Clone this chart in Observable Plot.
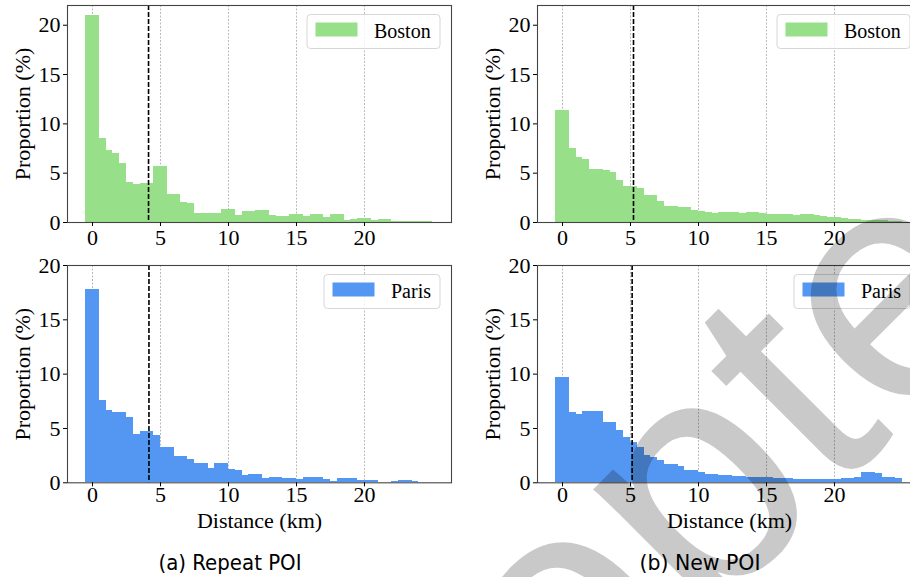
<!DOCTYPE html>
<html><head><meta charset="utf-8">
<script src="https://cdn.jsdelivr.net/npm/d3@7"></script>
<script src="https://cdn.jsdelivr.net/npm/@observablehq/plot@0.6"></script>
<style>
body{margin:0;background:#fff;}
#fig{position:relative;width:910px;height:577px;overflow:hidden;background:#fff;}
.panel{position:absolute;}
.panel text, .panel g{font-family:'Liberation Serif','Times New Roman',serif !important;font-variant:normal !important;}
#overlay{position:absolute;left:0;top:0;pointer-events:none;}
</style></head><body><div id="fig"></div>
<script>
// ---- data ----
const binStart = d3.range(51).map(i => -0.5 + 0.5 * i);
const binWidth = 0.5;
const xTicks = [0, 5, 10, 15, 20];
const yTicks = [0, 5, 10, 15, 20];
const cities = ["Boston", "Paris"];
const captions = ["(a) Repeat POI", "(b) New POI"];
const watermark = "Accepted";

const bostonRepeat = [21.0, 21.0, 8.49, 7.28, 6.97, 5.96, 4.05, 3.86, 3.94, 3.94,
  5.66, 5.66, 2.85, 2.85, 2.04, 1.93, 0.91, 0.91, 0.91, 0.91,
  1.32, 1.32, 0.71, 1.12, 1.12, 1.22, 1.22, 0.68, 0.58, 0.58,
  0.78, 0.78, 0.58, 0.81, 0.81, 0.51, 0.81, 0.81, 0.24, 0.34,
  0.41, 0.41, 0.24, 0.30, 0.30, 0.10, 0.10, 0.10, 0.10, 0.10, 0.10];
const bostonNew = [11.34, 11.34, 7.48, 6.57, 6.40, 5.38, 5.38, 5.28, 5.08, 4.26,
  3.65, 3.65, 3.45, 2.74, 2.74, 2.13, 1.62, 1.62, 1.52, 1.52,
  1.18, 1.08, 1.02, 0.91, 1.02, 1.02, 1.02, 0.91, 1.02, 1.02,
  0.95, 0.81, 0.81, 0.81, 0.81, 0.71, 0.81, 0.81, 0.68, 0.61,
  0.51, 0.51, 0.41, 0.30, 0.30, 0.20, 0.20, 0.20, 0.20, 0.10, 0.10];
const parisRepeat = [17.79, 17.79, 7.58, 6.66, 6.47, 6.47, 6.01, 4.45, 4.72, 4.72,
  4.36, 3.25, 3.25, 2.42, 2.42, 2.15, 1.78, 1.78, 1.32, 1.78,
  1.78, 1.23, 1.13, 0.67, 0.77, 0.77, 0.37, 0.49, 0.49, 0.40,
  0.40, 0.31, 0.49, 0.49, 0.49, 0.31, 0.12, 0.40, 0.40, 0.40,
  0.25, 0.21, 0.21, 0.05, 0.05, 0.12, 0.21, 0.21, 0.12, 0.05, 0.05];
const parisNew = [9.69, 9.69, 6.47, 6.29, 6.56, 6.56, 6.56, 5.55, 5.55, 4.82,
  4.17, 3.68, 3.25, 2.52, 2.33, 2.06, 1.72, 1.66, 1.50, 1.13,
  1.13, 0.98, 0.80, 0.80, 0.67, 0.67, 0.58, 0.58, 0.49, 0.49,
  0.49, 0.49, 0.40, 0.40, 0.40, 0.28, 0.28, 0.28, 0.28, 0.28,
  0.34, 0.34, 0.40, 0.40, 0.49, 0.98, 0.98, 0.89, 0.49, 0.49, 0.40];
// dashed reference lines (km): [Boston repeat, Boston new, Paris repeat, Paris new]
const medianDistance = [4.12, 5.22, 4.15, 5.12];

// ---- styles ----
const green = "#98df8a";
const blue = "#5497f2";
const serif = "'Liberation Serif','Times New Roman',serif";

function legendMark(label, color, textWidth) {
  return (index, scales, values, dims) => {
    const right = dims.width - dims.marginRight - 11;
    const top = dims.marginTop + 9.5;
    const boxW = 8.5 + 42 + 16.5 + textWidth + 9;
    const g = d3.create("svg:g");
    g.append("rect").attr("x", right - boxW).attr("y", top).attr("width", boxW).attr("height", 34)
      .attr("rx", 3.5).attr("fill", "white").attr("fill-opacity", 0.8).attr("stroke", "#d6d6d6").attr("stroke-width", 1);
    g.append("rect").attr("x", right - boxW + 8.5).attr("y", top + 8).attr("width", 42).attr("height", 14)
      .attr("fill", color);
    g.append("text").attr("x", right - boxW + 8.5 + 42 + 16.5).attr("y", top + 23)
      .attr("text-anchor", "start").attr("font-size", 20).attr("fill", "#000").text(label);
    return g.node();
  };
}

function panel({values, color, city, textWidth, median, yMax, left, top, height, marginTop, marginBottom, tickPad, xLabel}) {
  const rows = values.map((v, i) => ({x1: binStart[i], x2: binStart[i] + binWidth, y: v}));
  const p = Plot.plot({
    width: 460, height,
    marginLeft: 67, marginRight: 9, marginTop, marginBottom,
    style: {fontFamily: serif, fontSize: "22px", background: "transparent", color: "#000", overflow: "visible"},
    x: {domain: [-1.84, 26.4]},
    y: {domain: [0, yMax]},
    marks: [
      Plot.ruleX(xTicks, {stroke: "#aaaaaa", strokeWidth: 0.8, strokeDasharray: "2,1.5"}),
      Plot.rectY(rows, {x1: "x1", x2: "x2", y: "y", fill: color, insetLeft: 0, insetRight: 0, shapeRendering: "crispEdges"}),
      Plot.ruleX([median], {stroke: "#000", strokeWidth: 1.6, strokeDasharray: "5,2"}),
      Plot.frame({stroke: "#444", strokeWidth: 1.1}),
      Plot.axisX({ticks: xTicks, tickSize: 4, tickPadding: tickPad, tickFormat: d => String(d), fontSize: 22,
        fontFamily: serif, fontVariant: "normal",
        label: xLabel ? "Distance (km)" : null, labelAnchor: "center", labelArrow: "none", labelOffset: 45}),
      Plot.axisY({ticks: yTicks, tickSize: 4, tickPadding: 3, tickFormat: d => String(d), fontSize: 22,
        fontFamily: serif, fontVariant: "normal",
        label: "Proportion (%)", labelAnchor: "center", labelArrow: "none", labelOffset: 53}),
      legendMark(city, color, textWidth)
    ]
  });
  p.classList.add("panel");
  p.style.left = left + "px";
  p.style.top = top + "px";
  document.getElementById("fig").appendChild(p);
}

panel({values: bostonRepeat, color: green, city: cities[0], textWidth: 57, median: medianDistance[0], yMax: 22,
  left: 0, top: 0, height: 250, marginTop: 5, marginBottom: 28, tickPad: 3, xLabel: false});
panel({values: bostonNew, color: green, city: cities[0], textWidth: 57, median: medianDistance[1], yMax: 22,
  left: 470, top: 0, height: 250, marginTop: 5, marginBottom: 28, tickPad: 3, xLabel: false});
panel({values: parisRepeat, color: blue, city: cities[1], textWidth: 40, median: medianDistance[2], yMax: 20,
  left: 0, top: 250, height: 290, marginTop: 15, marginBottom: 57.7, tickPad: 0, xLabel: true});
panel({values: parisNew, color: blue, city: cities[1], textWidth: 40, median: medianDistance[3], yMax: 20,
  left: 470, top: 250, height: 290, marginTop: 15, marginBottom: 57.7, tickPad: 0, xLabel: true});

// overlay: subfigure captions and watermark
const ov = d3.select("#fig").append("svg").attr("id", "overlay").attr("width", 910).attr("height", 577);
const capFont = "'Liberation Sans Narrow','DejaVu Sans Condensed','Roboto Condensed',sans-serif";
[[230, 143], [700, 121]].forEach(([cx, w], i) => {
  ov.append("text").attr("x", cx).attr("y", 570).attr("text-anchor", "middle")
    .style("font-family", capFont).attr("font-size", 22).attr("fill", "#000")
    .attr("textLength", w).attr("lengthAdjust", "spacingAndGlyphs").text(captions[i]);
});
ov.append("text").attr("transform", "translate(669,660) rotate(-45)")
  .attr("text-anchor", "middle").style("font-family", "'Liberation Sans',Arial,sans-serif")
  .attr("font-size", 330).attr("fill", "#000").attr("fill-opacity", 0.21).text(watermark);
</script></body></html>
